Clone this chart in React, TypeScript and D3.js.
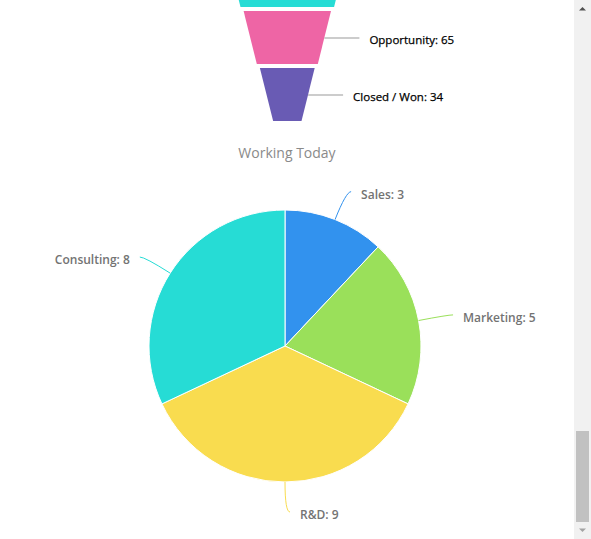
import { useEffect, useRef } from "react"
import * as d3 from "d3"

// funnel (top stage is scrolled out of view, only its base shows)
const funnelStages = ["Lead", "Opportunity", "Closed / Won"]
const funnelValues = [null, 65, 34]
const funnelColors = ["#27dcd5", "#ee65a5", "#695bb4"]

// pie
const pieTitle = "Working Today"
const pieLabels = ["Sales", "Marketing", "R&D", "Consulting"]
const pieValues = [3, 5, 9, 8]
const pieColors = ["#3292ee", "#9ae05a", "#f9dc4f", "#26dcd5"]

const W = 591, H = 539
const contentW = 574

const App = () => {
    const ref = useRef<SVGSVGElement>(null)

    useEffect(() => {
        const svg = d3.select(ref.current)
        svg.selectAll("*").remove()
        const font = "'Open Sans', sans-serif"

        // ---- funnel ----
        const fx = 287.3
        const fy = d3.scaleLinear().domain([0, 3]).range([-46, 125])
        const hw = d3.scaleLinear().domain([0, 3]).range([60, 11.1])
        const fill = 0.93, shrink = 0.81
        const funnel = svg.append("g")
        funnelStages.forEach((name, i) => {
            const y0 = fy(i), y1 = fy(i + fill)
            const w0 = hw(i), w1 = hw(i + shrink)
            funnel.append("path")
                .attr("d", `M${fx - w0},${y0}L${fx + w0},${y0}L${fx + w1},${y1}L${fx - w1},${y1}Z`)
                .attr("fill", funnelColors[i])
            const ym = (y0 + y1) / 2
            if (ym < 0 || funnelValues[i] == null) return
            const xe = fx + hw(i + shrink / 2)
            funnel.append("line")
                .attr("x1", xe).attr("x2", xe + 35)
                .attr("y1", ym + 0.5).attr("y2", ym + 0.5)
                .attr("stroke", "#999").attr("stroke-width", 1)
            funnel.append("text")
                .attr("x", xe + 45).attr("y", ym + 2.5)
                .attr("dy", "0.35em")
                .attr("font-family", font).attr("font-size", 11.5)
                .attr("stroke", "#000").attr("stroke-width", 0.25)
                .attr("fill", "#000")
                .text(`${name}: ${funnelValues[i]}`)
        })

        // ---- pie ----
        const cx = 285, cy = 346, r = 136
        svg.append("text")
            .attr("x", 287).attr("y", 158)
            .attr("text-anchor", "middle")
            .attr("font-family", font).attr("font-size", 14)
            .attr("fill", "#8a8a8a")
            .text(pieTitle)

        const pie = d3.pie<number>().sort(null).value(d => d)
        const arcs = pie(pieValues)
        const arc = d3.arc<d3.PieArcDatum<number>>().innerRadius(0).outerRadius(r)
        const g = svg.append("g").attr("transform", `translate(${cx},${cy})`)

        g.selectAll("path.slice")
            .data(arcs)
            .enter()
            .append("path")
            .attr("class", "slice")
            .attr("d", arc)
            .attr("fill", (d, i) => pieColors[i])
            .attr("stroke", "#fff")
            .attr("stroke-width", 1)

        const pt = (a: number, rad: number) => [Math.sin(a) * rad, -Math.cos(a) * rad]
        arcs.forEach((d, i) => {
            const a = (d.startAngle + d.endAngle) / 2
            const side = Math.sin(a) > -1e-6 ? 1 : -1
            const [ex, ey] = pt(a, r)
            const [ox, oy] = pt(a, r + 30)
            const endX = ox + side * 5
            const p = d3.path()
            p.moveTo(ex, ey)
            p.quadraticCurveTo(ox, oy, endX, oy)
            g.append("path")
                .attr("d", p.toString())
                .attr("fill", "none")
                .attr("stroke", pieColors[i])
                .attr("stroke-width", 1)
            g.append("text")
                .attr("x", endX + side * 10)
                .attr("y", oy + 3)
                .attr("dy", "0.35em")
                .attr("text-anchor", side > 0 ? "start" : "end")
                .attr("font-family", font).attr("font-size", 12).attr("font-weight", 600)
                .attr("fill", "#737373")
                .text(`${pieLabels[i]}: ${pieValues[i]}`)
        })

        // ---- page scrollbar (page is scrolled to the bottom) ----
        const sb = svg.append("g").attr("transform", `translate(${contentW},0)`)
        sb.append("rect").attr("width", W - contentW).attr("height", H).attr("fill", "#f1f1f1")
        sb.append("rect").attr("x", 2).attr("y", 431).attr("width", 13).attr("height", 91).attr("fill", "#c1c1c1")
        sb.append("path").attr("d", "M5,10.5L12,10.5L8.5,7Z").attr("fill", "#505050")
        sb.append("path").attr("d", "M5,528.5L12,528.5L8.5,532Z").attr("fill", "#a3a3a3")
    }, [])

    return (
        <div style={{ position: "fixed", left: 0, top: 0, width: W, height: H, overflow: "hidden", background: "#fff" }}>
            <svg ref={ref} width={W} height={H} style={{ display: "block" }} />
        </div>
    )
}

export default App
